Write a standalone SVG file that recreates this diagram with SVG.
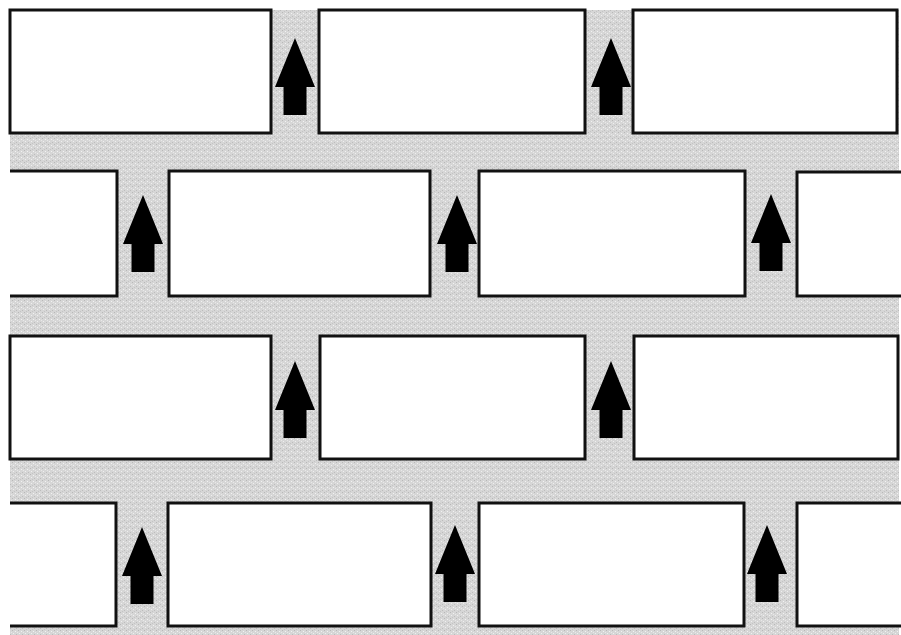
<svg xmlns="http://www.w3.org/2000/svg" width="901" height="635" viewBox="0 0 901 635">
<style>
.brick{fill:#fff;stroke:#111;stroke-width:3}
.edge{fill:none;stroke:#111;stroke-width:3}
.arrow{fill:#000}
</style>
<defs>
<pattern id="speck" width="6" height="6" patternUnits="userSpaceOnUse">
<rect width="6" height="6" fill="#d6d6d6"/>
<rect x="0" y="0" width="1" height="1" fill="#b8b8b8"/>
<rect x="3" y="1" width="1" height="1" fill="#f2f2f2"/>
<rect x="1" y="3" width="1" height="1" fill="#efefef"/>
<rect x="4" y="4" width="1" height="1" fill="#bcbcbc"/>
<rect x="2" y="5" width="1" height="1" fill="#c4c4c4"/>
<rect x="5" y="2" width="1" height="1" fill="#e8e8e8"/>
</pattern>
<polygon id="arr" points="0,0 20,49 11.5,49 11.5,77 -11.5,77 -11.5,49 -20,49"/>
</defs>
<rect width="901" height="635" fill="#fff"/>
<rect x="10" y="10" width="889" height="625" fill="url(#speck)"/>
<g id="row1">
<g id="b1"><rect class="brick" x="10" y="10" width="261" height="123"/></g>
<g id="b2"><rect class="brick" x="319" y="10" width="266" height="123"/></g>
<g id="b3"><rect class="brick" x="633" y="10" width="264" height="123"/></g>
</g>
<g id="row2">
<g id="b4"><rect x="10" y="171" width="107" height="125" fill="#fff"/><path class="edge" d="M10,171 H117 V296 H10"/></g>
<g id="b5"><rect class="brick" x="169" y="171" width="261" height="125"/></g>
<g id="b6"><rect class="brick" x="479" y="171" width="266" height="125"/></g>
<g id="b7"><rect x="797" y="172" width="104" height="124" fill="#fff"/><path class="edge" d="M901,172 H797 V296 H901"/></g>
</g>
<g id="row3">
<g id="b8"><rect class="brick" x="10" y="336" width="261" height="123"/></g>
<g id="b9"><rect class="brick" x="320" y="336" width="265" height="123"/></g>
<g id="b10"><rect class="brick" x="634" y="336" width="264" height="123"/></g>
</g>
<g id="row4">
<g id="b11"><rect x="10" y="503" width="106" height="123" fill="#fff"/><path class="edge" d="M10,503 H116 V626 H10"/></g>
<g id="b12"><rect class="brick" x="168" y="503" width="263" height="123"/></g>
<g id="b13"><rect class="brick" x="479" y="503" width="265" height="123"/></g>
<g id="b14"><rect x="797" y="503" width="104" height="123" fill="#fff"/><path class="edge" d="M901,503 H797 V626 H901"/></g>
</g>
<g id="connectors" class="arrow">
<use href="#arr" x="295" y="38"/>
<use href="#arr" x="611" y="38"/>
<use href="#arr" x="143" y="195"/>
<use href="#arr" x="457" y="195"/>
<use href="#arr" x="771" y="194"/>
<use href="#arr" x="295" y="361"/>
<use href="#arr" x="611" y="361"/>
<use href="#arr" x="142" y="527"/>
<use href="#arr" x="455" y="525"/>
<use href="#arr" x="767" y="525"/>
</g>
</svg>
